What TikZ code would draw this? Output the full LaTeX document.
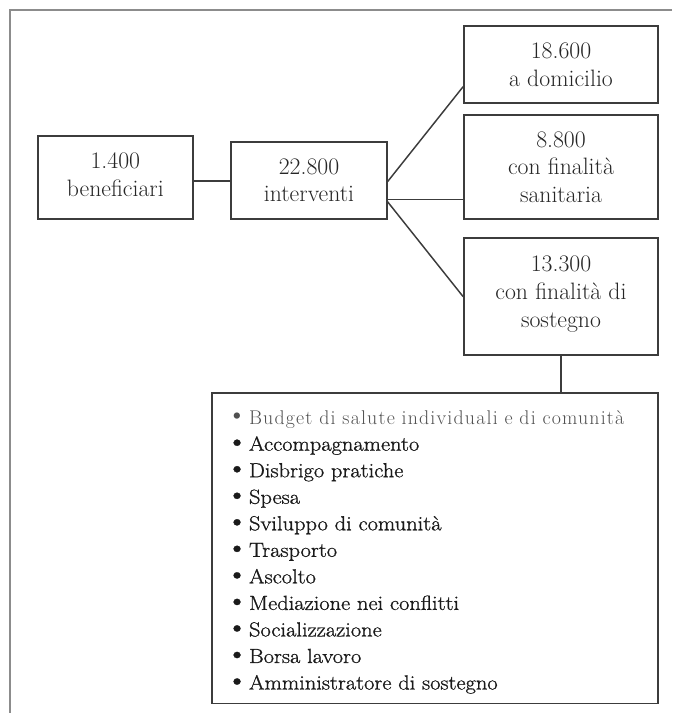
\documentclass[tikz,border=0pt]{standalone}
\usepackage{fontspec}
\setmainfont{Latin Modern Roman}
\newfontfamily\heavyfont[FakeBold=1, FakeStretch=1.1]{Latin Modern Roman}
\newfontfamily\trackedfont[LetterSpace=6]{Latin Modern Roman}
\definecolor{framegray}{HTML}{8C8C8C}
\definecolor{boxline}{HTML}{3C3C3C}
\definecolor{textcol}{HTML}{262626}
\definecolor{lighttext}{HTML}{505050}
\definecolor{darktext}{HTML}{1A1A1A}
\newcommand{\itembul}{\leavevmode\llap{\makebox[0pt]{\raisebox{0.4pt}{\fontsize{21}{0}\selectfont\textbullet}}\hspace{9pt}}}
\begin{document}
\begin{tikzpicture}[x=0.75pt,y=-0.75pt,
  box/.style={draw=boxline, line width=1.3pt, inner sep=0pt, align=center,
    font=\fontsize{17.8}{20.8}\selectfont, text=textcol},
  listbox/.style={draw=boxline, line width=1.3pt, inner xsep=28pt, inner ysep=0pt,
    align=left, text width=278.7pt, minimum height=233.1pt,
    font=\fontsize{15.3}{19.9}\selectfont, text=darktext},
  conn/.style={draw=boxline, line width=1.1pt},
  frameline/.style={draw=framegray, line width=2pt}]
\useasboundingbox (0,0) rectangle (672,713);
% outer frame (cut off at right and bottom)
\draw[frameline] (672,10) -- (10,10) -- (10,713);

\node[box, minimum width=116.5pt, minimum height=62.25pt] (ben) at (115.35,177.35)
  {1.400\\beneficiari\rule[-4pt]{0pt}{0pt}};
\node[box, minimum width=116.5pt, minimum height=58pt] (int) at (309,180.35)
  {22.800\\interventi};
\node[box, minimum width=145.5pt, minimum height=58pt] (dom) at (561,64.65)
  {18.600\\a domicilio};
\node[box, minimum width=145.5pt, minimum height=78pt] (san) at (561,167)
  {8.800\\con finalità\\sanitaria};
\node[box, minimum width=145.5pt, minimum height=87.5pt] (sos) at (561,296.65)
  {13.300\\con finalità di\\sostegno\rule[-7.3pt]{0pt}{0pt}};

\node[listbox] (list) at (434.85,548.1) {%
  {\color{lighttext}\itembul\rule{0pt}{23.6pt}{\trackedfont\fontsize{14.9}{19.9}\selectfont Budget di salute individuali e di comunità}}\\
  \heavyfont\itembul Accompagnamento\\
  \itembul Disbrigo pratiche\\
  \itembul Spesa\\
  \itembul Sviluppo di comunità\\
  \itembul Trasporto\\
  \itembul Ascolto\\
  \itembul Mediazione nei conflitti\\
  \itembul Socializzazione\\
  \itembul Borsa lavoro\\
  \itembul Amministratore di sostegno\rule[-10.5pt]{0pt}{0pt}};

% connectors
\draw[conn] ([yshift=-2.7pt]ben.east) -- ([yshift=-2.7pt]ben.east -| int.west);
\draw[conn] ([yshift=-1pt]int.east) -- ([yshift=-16.5pt]dom.west);
\draw[conn] ([yshift=-14.2pt]int.east) -- ([yshift=-14.2pt]int.east -| san.west);
\draw[conn] ([yshift=-16pt]int.east) -- (sos.west);
\draw[conn] (sos.south) -- (sos.south |- list.north);
\end{tikzpicture}
\end{document}
